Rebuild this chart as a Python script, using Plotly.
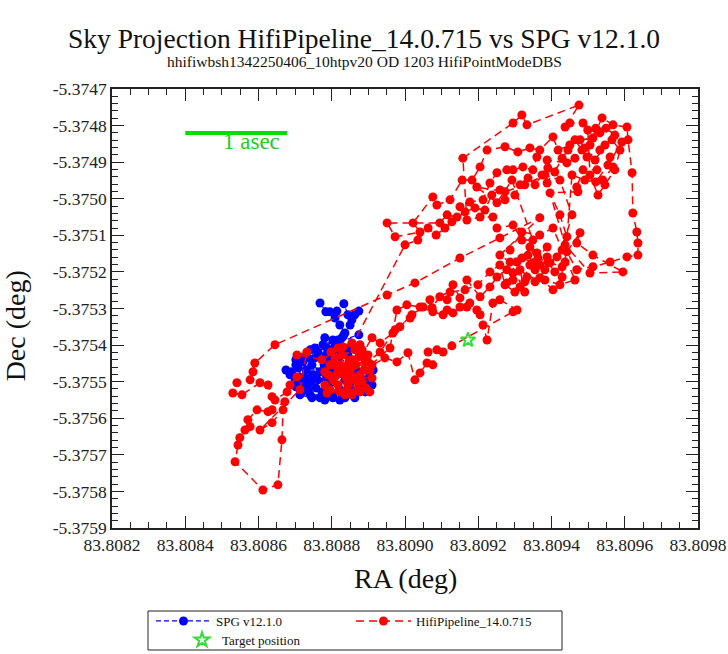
import plotly.graph_objects as go

# ---------------- data ----------------
x_tick_vals = [83.8082, 83.8084, 83.8086, 83.8088, 83.8090, 83.8092, 83.8094, 83.8096, 83.8098]
x_tick_text = ["83.8082", "83.8084", "83.8086", "83.8088", "83.8090", "83.8092", "83.8094", "83.8096", "83.8098"]
y_tick_vals = [-5.3747, -5.3748, -5.3749, -5.3750, -5.3751, -5.3752, -5.3753, -5.3754,
               -5.3755, -5.3756, -5.3757, -5.3758, -5.3759]
y_tick_text = ["-5.3747", "-5.3748", "-5.3749", "-5.3750", "-5.3751", "-5.3752", "-5.3753", "-5.3754",
               "-5.3755", "-5.3756", "-5.3757", "-5.3758", "-5.3759"]

spg_ra = [83.808768, 83.808746, 83.808784, 83.808727, 83.808757, 83.808713, 83.808691, 83.808708,
          83.808735, 83.808762, 83.808787, 83.808809, 83.808795, 83.808773, 83.808803, 83.808741,
          83.808719, 83.808822, 83.808850, 83.808877, 83.808899, 83.808891, 83.808904, 83.808863,
          83.808836, 83.808803, 83.808768, 83.808735, 83.808702, 83.808721, 83.808749, 83.808779,
          83.808812, 83.808754, 83.808784, 83.808817, 83.808836, 83.808850, 83.808790, 83.808762,
          83.808730, 83.808711, 83.808743, 83.808801, 83.808825, 83.808844, 83.808806, 83.808817,
          83.808828, 83.808836, 83.808822, 83.808809, 83.808795, 83.808768, 83.808784, 83.808814,
          83.808833, 83.808844, 83.808855, 83.808863, 83.808874, 83.808850, 83.808833, 83.808822,
          83.808844, 83.808872, 83.808883, 83.808866, 83.808776, 83.808754, 83.808874, 83.808702,
          83.808700, 83.808686, 83.808713, 83.808746, 83.808781, 83.808822, 83.808891, 83.808910,
          83.808913, 83.808727, 83.808741, 83.808713, 83.808803, 83.808781, 83.808702, 83.808795,
          83.808675]
spg_dec = [-5.375473, -5.375454, -5.375495, -5.375487, -5.375517, -5.375503, -5.375473, -5.375462,
           -5.375435, -5.375419, -5.375408, -5.375399, -5.375440, -5.375528, -5.375536, -5.375536,
           -5.375528, -5.375522, -5.375531, -5.375522, -5.375509, -5.375495, -5.375481, -5.375544,
           -5.375544, -5.375544, -5.375544, -5.375522, -5.375514, -5.375446, -5.375481, -5.375454,
           -5.375473, -5.375435, -5.375427, -5.375446, -5.375495, -5.375509, -5.375511, -5.375495,
           -5.375468, -5.375487, -5.375500, -5.375490, -5.375419, -5.375427, -5.375413, -5.375386,
           -5.375380, -5.375367, -5.375345, -5.375326, -5.375309, -5.375285, -5.375309, -5.375307,
           -5.375287, -5.375317, -5.375331, -5.375317, -5.375307, -5.375345, -5.375372, -5.375399,
           -5.375408, -5.375413, -5.375429, -5.375468, -5.375399, -5.375408, -5.375372, -5.375440,
           -5.375495, -5.375481, -5.375536, -5.375544, -5.375550, -5.375550, -5.375528, -5.375509,
           -5.375468, -5.375509, -5.375413, -5.375435, -5.375386, -5.375380, -5.375454, -5.375468,
           -5.375468]

hifi_ra = [
    83.808836, 83.808855, 83.808817, 83.808877, 83.808844, 83.808803, 83.808891, 83.808863,
    83.808828, 83.808904, 83.808795, 83.808869, 83.808822, 83.808781, 83.808883, 83.808850,
    83.808809, 83.808899, 83.808839, 83.808866,
    83.808910, 83.808932, 83.808967, 83.808986, 83.809019, 83.809049, 83.809074, 83.809095,
    83.809115, 83.809131, 83.809150, 83.809169, 83.809205, 83.809232, 83.809251, 83.809278,
    83.809295, 83.809314,
    83.809341, 83.809360, 83.809388, 83.809349, 83.809396, 83.809429, 83.809429, 83.809404,
    83.809368, 83.809333, 83.809295, 83.809278, 83.809319, 83.809368, 83.809341, 83.809388,
    83.809415,
    83.809442, 83.809423, 83.809396, 83.809472, 83.809469, 83.809486, 83.809524, 83.809540,
    83.809568, 83.809560, 83.809532, 83.809497, 83.809478, 83.809513, 83.809538, 83.809568,
    83.809606,
    83.809609, 83.809620, 83.809622, 83.809633, 83.809636, 83.809636, 83.809606, 83.809560,
    83.809513, 83.809469, 83.809442, 83.809478, 83.809469, 83.809513, 83.809595, 83.809505,
    83.809437, 83.809388,
    83.809450, 83.809418, 83.809404, 83.809368, 83.809341, 83.809308, 83.809273, 83.809224,
    83.809205, 83.809183, 83.809156, 83.809123, 83.809087, 83.809076, 83.809022, 83.809041,
    83.808973, 83.808951,
    83.809095, 83.809115, 83.809142, 83.809150, 83.809177, 83.809213, 83.809232, 83.809251,
    83.809278, 83.809295, 83.809322, 83.809349, 83.809360, 83.809388, 83.809442, 83.809464,
    83.809491, 83.809519, 83.809546, 83.809565, 83.809587, 83.809573, 83.809546, 83.809527,
    83.809505, 83.809499, 83.809532, 83.809486, 83.809450, 83.809437, 83.809475, 83.809333,
    83.809319, 83.809295, 83.809158,
    83.809169, 83.809205, 83.809240, 83.809251, 83.809295, 83.809319, 83.809349, 83.809292,
    83.809251, 83.809196, 83.809273, 83.809327, 83.809382, 83.809423, 83.809456, 83.809429,
    83.809382, 83.809355, 83.809314, 83.809327, 83.809287, 83.809259, 83.809368, 83.809259,
    83.809150, 83.809027, 83.808951, 83.808645,
    83.808590, 83.808585, 83.808577, 83.808541, 83.808530, 83.808555, 83.808604, 83.808626,
    83.808637, 83.808645, 83.808678, 83.808705, 83.808686, 83.808672, 83.808637, 83.808626,
    83.808596, 83.808571, 83.808577, 83.808563, 83.808549, 83.808544, 83.808536, 83.808612,
    83.808653, 83.808664, 83.808667, 83.808637, 83.808604, 83.808713, 83.808732, 83.808705,
    83.808773,
    83.808831, 83.808877, 83.808817, 83.808855, 83.808893, 83.808798, 83.808847, 83.808874,
    83.808825, 83.808861,
    83.808959, 83.808978, 83.809005, 83.809041, 83.809076, 83.809104, 83.809115, 83.809131,
    83.809150, 83.809169, 83.809177, 83.809196, 83.809205, 83.809213, 83.809224, 83.809240,
    83.809259, 83.809306, 83.809295,
    83.809128, 83.809104, 83.809087, 83.809063, 83.809076, 83.809060, 83.809041, 83.809027,
    83.809008, 83.808978, 83.808945,
    83.808888, 83.808842, 83.808787, 83.808904, 83.808872, 83.808833, 83.808852, 83.808790,
    83.808910, 83.808812,
    83.809000, 83.809035, 83.809063, 83.809085, 83.809109, 83.809128, 83.809164, 83.809191,
    83.809218, 83.809237, 83.809259, 83.809273, 83.809300, 83.809314, 83.809336, 83.809355,
    83.809374, 83.809390, 83.809409, 83.809429, 83.809445, 83.809464, 83.809483, 83.809505,
    83.809521, 83.809549, 83.809573, 83.809592, 83.809554, 83.809521, 83.809491, 83.809456,
    83.809437, 83.809409, 83.809390, 83.809363, 83.809336, 83.809306, 83.809287, 83.809319,
    83.809368, 83.809404, 83.809464, 83.809423, 83.809382, 83.809355, 83.809327, 83.809300,
    83.809273, 83.809259, 83.809232, 83.809199, 83.809164, 83.809123, 83.809068, 83.809014,
    83.808973, 83.808932,
    83.808899, 83.808855, 83.808817, 83.808781, 83.808809, 83.808795, 83.808836, 83.808877,
    83.808910, 83.808883,
]
hifi_dec = [
    -5.375462, -5.375440, -5.375473, -5.375481, -5.375509, -5.375495, -5.375446, -5.375413,
    -5.375427, -5.375468, -5.375454, -5.375522, -5.375528, -5.375509, -5.375500, -5.375473,
    -5.375435, -5.375427, -5.375490, -5.375454,
    -5.375380, -5.375394, -5.375367, -5.375350, -5.375317, -5.375296, -5.375298, -5.375268,
    -5.375276, -5.375235, -5.375271, -5.375222, -5.375268, -5.375241, -5.375214, -5.375194,
    -5.375222, -5.375241,
    -5.375181, -5.375148, -5.375132, -5.375175, -5.375175, -5.375186, -5.375214, -5.375249,
    -5.375216, -5.375214, -5.375203, -5.375230, -5.375162, -5.375181, -5.375132, -5.375159,
    -5.375159,
    -5.375104, -5.375044, -5.374984, -5.374981, -5.374968, -5.374921, -5.374921, -5.374949,
    -5.374913, -5.374886, -5.374867, -5.374886, -5.374839, -5.374834, -5.374779, -5.374798,
    -5.374804,
    -5.374839, -5.374929, -5.375039, -5.375091, -5.375121, -5.375154, -5.375159, -5.375173,
    -5.375186, -5.375194, -5.375145, -5.375093, -5.375121, -5.375154, -5.375200, -5.375203,
    -5.375126, -5.374957,
    -5.374853, -5.374867, -5.374831, -5.374867, -5.374861, -5.374872, -5.374858, -5.374867,
    -5.374913, -5.374949, -5.374949, -5.375003, -5.375017, -5.374995, -5.375066, -5.375091,
    -5.375104, -5.375066,
    -5.375066, -5.375044, -5.375050, -5.375022, -5.375009, -5.375003, -5.374957, -5.374929,
    -5.374921, -5.374921, -5.374913, -5.374921, -5.374886, -5.374894, -5.374902, -5.374889,
    -5.374861, -5.374894, -5.374853, -5.374839, -5.374867, -5.374921, -5.374962, -5.374990,
    -5.374935, -5.374812, -5.374820, -5.374793, -5.374793, -5.374804, -5.374744, -5.374798,
    -5.374771, -5.374793, -5.374889,
    -5.375058, -5.375050, -5.375050, -5.375080, -5.375072, -5.375113, -5.375113, -5.374949,
    -5.375011, -5.374968, -5.374981, -5.374962, -5.374935, -5.374949, -5.375044, -5.375140,
    -5.375194, -5.375227, -5.375194, -5.375255, -5.375173, -5.375154, -5.375052, -5.375107,
    -5.375162, -5.375230, -5.375263, -5.375399,
    -5.375449, -5.375473, -5.375495, -5.375503, -5.375531, -5.375536, -5.375503, -5.375509,
    -5.375541, -5.375550, -5.375528, -5.375487, -5.375509, -5.375555, -5.375577, -5.375582,
    -5.375577, -5.375604, -5.375623, -5.375632, -5.375653, -5.375673, -5.375719, -5.375796,
    -5.375782, -5.375659, -5.375577, -5.375612, -5.375632, -5.375522, -5.375419, -5.375427,
    -5.375440,
    -5.375405, -5.375399, -5.375509, -5.375536, -5.375517, -5.375419, -5.375446, -5.375432,
    -5.375454, -5.375495,
    -5.375408, -5.375304, -5.375290, -5.375296, -5.375309, -5.375317, -5.375304, -5.375312,
    -5.375296, -5.375296, -5.375285, -5.375304, -5.375317, -5.375345, -5.375386, -5.375285,
    -5.375276, -5.375304, -5.375309,
    -5.375402, -5.375419, -5.375413, -5.375419, -5.375454, -5.375449, -5.375476, -5.375495,
    -5.375421, -5.375446, -5.375435,
    -5.375468, -5.375522, -5.375531, -5.375528, -5.375503, -5.375479, -5.375459, -5.375481,
    -5.375490, -5.375484,
    -5.375126, -5.375113, -5.375080, -5.375099, -5.375080, -5.375063, -5.375036, -5.375025,
    -5.375031, -5.374990, -5.374976, -5.375003, -5.374990, -5.374962, -5.374943, -5.374962,
    -5.374935, -5.374916, -5.374927, -5.374889, -5.374867, -5.374839, -5.374867, -5.374853,
    -5.374807, -5.374807, -5.374826, -5.374845, -5.374908, -5.374954, -5.374949, -5.374935,
    -5.375173, -5.375200, -5.375173, -5.375162, -5.375154, -5.375173, -5.375140, -5.375091,
    -5.375099, -5.375080, -5.375222, -5.375235, -5.375222, -5.375194, -5.375227, -5.375255,
    -5.375235, -5.375181, -5.375200, -5.375235, -5.375249, -5.375255, -5.375276, -5.375326,
    -5.375358, -5.375419,
    -5.375446, -5.375394, -5.375408, -5.375473, -5.375454, -5.375522, -5.375536, -5.375528,
    -5.375454, -5.375413,
]

target_ra = [83.809172]
target_dec = [-5.375386]

scale_bar_ra = [83.8084, 83.8084 + 1.0 / 3600.0]
scale_bar_dec = [-5.374820, -5.374820]
scale_label = "1 asec"

title_text = "Sky Projection HifiPipeline_14.0.715 vs SPG v12.1.0"
subtitle_text = "hhifiwbsh1342250406_10htpv20 OD 1203 HifiPointModeDBS"

SERIF = "Liberation Serif, Times New Roman, serif"
INK = "#222222"
PAGE_W, PAGE_H = 728, 654
PLOT_L, PLOT_R, PLOT_T, PLOT_B = 112, 698, 89, 528


def px_to_paper_x(px):
    return (px - PLOT_L) / (PLOT_R - PLOT_L)


def py_to_paper_y(py):
    return (PLOT_B - py) / (PLOT_B - PLOT_T)


# ---------------- figure ----------------
fig = go.Figure()

fig.add_trace(go.Scatter(
    x=spg_ra, y=spg_dec, mode="lines+markers", name="SPG v12.1.0", legend="legend",
    line=dict(color="#0000ff", width=1.2, dash="5px,3px"),
    marker=dict(color="#0000ff", size=9, symbol="circle"),
))
fig.add_trace(go.Scatter(
    x=hifi_ra, y=hifi_dec, mode="lines+markers", name="HifiPipeline_14.0.715", legend="legend",
    line=dict(color="#ff0000", width=1.5, dash="8px,5px"),
    marker=dict(color="#ff0000", size=9, symbol="circle"),
))
fig.add_trace(go.Scatter(
    x=target_ra, y=target_dec, mode="markers", name="Target position", legend="legend2",
    marker=dict(color="#33dd33", size=11, symbol="star-open", line=dict(width=2, color="#33dd33")),
))
fig.add_trace(go.Scatter(
    x=scale_bar_ra, y=scale_bar_dec, mode="lines", showlegend=False,
    line=dict(color="#00e000", width=4), hoverinfo="skip",
))
# invisible trace that carries the mirrored (top / right) tick axes
fig.add_trace(go.Scatter(
    x=[x_tick_vals[4]], y=[y_tick_vals[6]], xaxis="x2", yaxis="y2", mode="markers",
    marker=dict(opacity=0), showlegend=False, hoverinfo="skip",
))

fig.add_annotation(x=(scale_bar_ra[0] + scale_bar_ra[1]) / 2 + 0.000042, y=-5.374843,
                   xref="x", yref="y", text=scale_label, showarrow=False,
                   font=dict(family=SERIF, size=23, color="#22cc22"))

fig.add_annotation(x=px_to_paper_x(PAGE_W / 2), y=py_to_paper_y(38), xref="paper", yref="paper",
                   text=title_text, showarrow=False,
                   font=dict(family=SERIF, size=27.5, color="#111111"), yanchor="middle")
fig.add_annotation(x=px_to_paper_x(PAGE_W / 2), y=py_to_paper_y(62), xref="paper", yref="paper",
                   text=subtitle_text, showarrow=False,
                   font=dict(family=SERIF, size=15.5, color="#111111"), yanchor="middle")
fig.add_annotation(x=0.5, y=-0.114, xref="paper", yref="paper", text="RA (deg)", showarrow=False,
                   font=dict(family=SERIF, size=28, color="#111111"), yanchor="middle")
fig.add_annotation(x=-0.165, y=0.46, xref="paper", yref="paper", text="Dec (deg)", showarrow=False,
                   textangle=-90, font=dict(family=SERIF, size=28, color="#111111"),
                   xanchor="center", yanchor="middle")

axis_common = dict(
    showgrid=False, zeroline=False, showline=True, linecolor=INK, linewidth=1.5,
    ticks="inside", ticklen=12, tickwidth=1.2, tickcolor=INK, automargin=False,
    tickfont=dict(family=SERIF, size=17.5, color=INK),
)
x_range = [83.8082, 83.8098]
y_range = [-5.3759, -5.3747]
x_minor = dict(ticks="inside", ticklen=6, dtick=0.00005, tick0=83.8082, tickcolor=INK, showgrid=False)
y_minor = dict(ticks="inside", ticklen=6, dtick=0.00002, tick0=-5.3759, tickcolor=INK, showgrid=False)

fig.update_layout(
    xaxis=dict(range=x_range, tickmode="array", tickvals=x_tick_vals, ticktext=x_tick_text,
               minor=x_minor, mirror=True, **axis_common),
    yaxis=dict(range=y_range, tickmode="array", tickvals=y_tick_vals, ticktext=y_tick_text,
               minor=y_minor, mirror=True, **axis_common),
    xaxis2=dict(range=x_range, overlaying="x", side="top", anchor="y2", tickmode="array",
                tickvals=x_tick_vals, showticklabels=False, minor=x_minor, **axis_common),
    yaxis2=dict(range=y_range, overlaying="y", side="right", anchor="x2", tickmode="array",
                tickvals=y_tick_vals, showticklabels=False, minor=y_minor, **axis_common),
)

# legend frame (decoration) around the two legend rows
fig.add_shape(type="rect", xref="paper", yref="paper",
              x0=px_to_paper_x(148), x1=px_to_paper_x(562),
              y0=py_to_paper_y(611), y1=py_to_paper_y(650),
              line=dict(color=INK, width=1), fillcolor="rgba(0,0,0,0)")

legend_font = dict(family=SERIF, size=13, color="#111111")
fig.update_layout(
    width=PAGE_W, height=PAGE_H,
    margin=dict(l=PLOT_L, r=PAGE_W - PLOT_R, t=PLOT_T, b=PAGE_H - PLOT_B),
    paper_bgcolor="white", plot_bgcolor="white",
    showlegend=True,
    legend=dict(
        orientation="h", xref="container", yref="container",
        x=151 / PAGE_W, xanchor="left", y=1 - 606 / PAGE_H, yanchor="top",
        borderwidth=0, bgcolor="rgba(0,0,0,0)", font=legend_font,
        entrywidth=130, itemwidth=55, tracegroupgap=0,
    ),
    legend2=dict(
        orientation="h", xref="container", yref="container",
        x=182 / PAGE_W, xanchor="left", y=1 - 625 / PAGE_H, yanchor="top",
        borderwidth=0, bgcolor="rgba(0,0,0,0)", font=legend_font,
        itemwidth=30,
    ),
)

fig.write_html("out.html")
